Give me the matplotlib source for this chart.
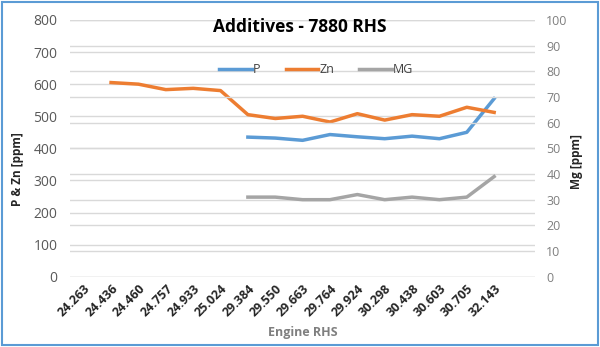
import numpy as np
import matplotlib
matplotlib.use('Agg')
import matplotlib.pyplot as plt
from matplotlib.patches import Rectangle

plt.rcParams['font.family'] = ['Open Sans', 'DejaVu Sans']

nan = np.nan
labels = ['24.263', '24.436', '24.460', '24.757', '24.933', '25.024', '29.384', '29.550',
          '29.663', '29.764', '29.924', '30.298', '30.438', '30.603', '30.705', '32.143', '']
p_vals = [nan, nan, nan, nan, nan, nan, 435, 432, 425, 443, 436, 430, 438, 430, 450, 555, nan]
zn_vals = [nan, 605, 600, 583, 587, 580, 505, 493, 500, 482, 508, 488, 505, 500, 528, 512, nan]
mg_vals = [nan, nan, nan, nan, nan, nan, 31, 31, 30, 30, 32, 30, 31, 30, 31, 39, nan]

x = np.arange(len(labels))

fig = plt.figure(figsize=(6, 3.47), dpi=100)
ax = fig.add_axes([0.1167, 0.2026, 0.7753, 0.7398])
ax2 = ax.twinx()

grid_c = '#D9D9D9'
for a in (ax, ax2):
    for s in a.spines.values():
        s.set_visible(False)
    a.tick_params(length=0)
    a.grid(True, axis='y', color=grid_c, linewidth=1)
    a.set_axisbelow(True)

lp, = ax.plot(x, p_vals, color='#5B9BD5', linewidth=2.5, label='P', zorder=3)
lz, = ax.plot(x, zn_vals, color='#ED7D31', linewidth=2.5, label='Zn', zorder=3)
lm, = ax2.plot(x, mg_vals, color='#A5A5A5', linewidth=2.5, label='MG', zorder=3)

ax.set_xlim(-0.5, len(labels) - 0.5)
ax.set_ylim(0, 800)
ax.set_yticks(np.arange(0, 801, 100))
ax2.set_ylim(0, 100)
ax2.set_yticks(np.arange(0, 101, 10))

ax.set_xticks(x)
ax.set_xticklabels(labels, rotation=45, ha='right', rotation_mode='anchor',
                   fontsize=9, fontweight='bold', color='#262626')
ax.tick_params(axis='x', pad=4)
ax.tick_params(axis='y', labelsize=10, labelcolor='#595959', pad=9)
ax2.tick_params(axis='y', labelsize=9, labelcolor='#7F7F7F', pad=8)

ax.set_ylabel('P & Zn [ppm]', fontsize=8.5, fontweight='bold', color='#262626')
ax.yaxis.set_label_coords(-0.1, 0.42)
ax2.set_ylabel('Mg [ppm]', fontsize=8.5, fontweight='bold', color='#262626')
ax2.yaxis.set_label_coords(1.074, 0.45)
ax.set_xlabel('Engine RHS', fontsize=9, fontweight='bold', color='#7F7F7F', labelpad=5)

fig.text(0.5, 0.922, 'Additives - 7880 RHS', ha='center', va='center',
         fontsize=12.5, fontweight='bold', color='black')

fig.legend(handles=[lp, lz, lm], loc='center', bbox_to_anchor=(0.527, 0.8),
           ncol=3, frameon=False, fontsize=9, handlelength=2.6, columnspacing=2.0,
           handletextpad=0.1, labelcolor='#404040')

fig.patches.append(Rectangle((0.003, 0.005), 0.993, 0.99, transform=fig.transFigure,
                             fill=False, edgecolor='#5B9BD5', linewidth=1.5))

fig.savefig('out.png', dpi=100)
